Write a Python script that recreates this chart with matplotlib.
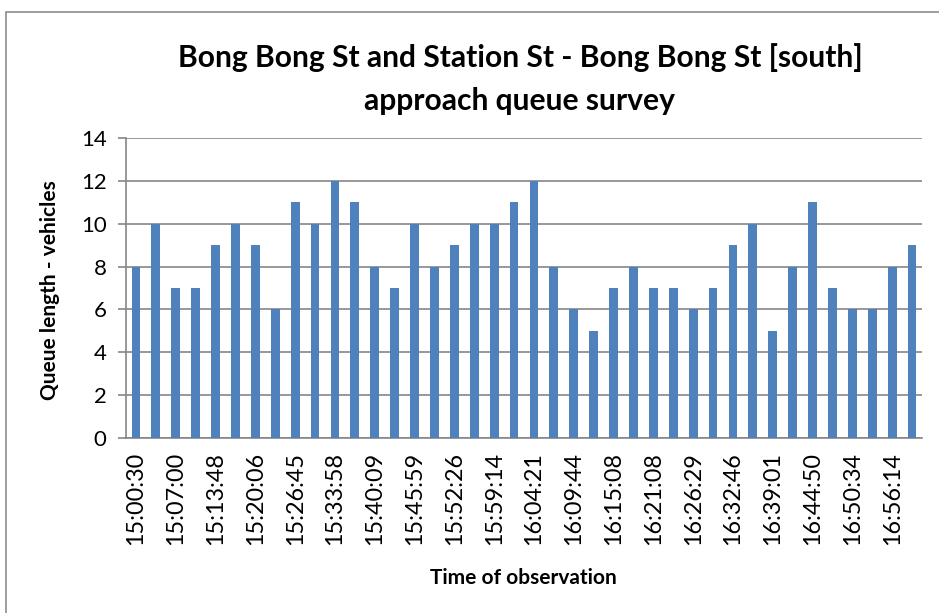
import numpy as np
import matplotlib
matplotlib.use("Agg")
import matplotlib.pyplot as plt
from matplotlib.patches import Rectangle

# queue length per observation (40 observations, every second one labelled)
queue = [8, 10, 7, 7, 9, 10, 9, 6, 11, 10,
         12, 11, 8, 7, 10, 8, 9, 10, 10, 11,
         12, 8, 6, 5, 7, 8, 7, 7, 6, 7,
         9, 10, 5, 8, 11, 7, 6, 6, 8, 9]
tick_labels = ["15:00:30", "15:07:00", "15:13:48", "15:20:06", "15:26:45",
               "15:33:58", "15:40:09", "15:45:59", "15:52:26", "15:59:14",
               "16:04:21", "16:09:44", "16:15:08", "16:21:08", "16:26:29",
               "16:32:46", "16:39:01", "16:44:50", "16:50:34", "16:56:14"]

title = "Bong Bong St and Station St - Bong Bong St [south]\napproach queue survey"
grid_col = "#868686"
bar_col = "#4F81BD"
font = "Lato"

W, H = 939, 613
fig = plt.figure(figsize=(W / 100, H / 100), dpi=100)

# chart area border (runs off the right/bottom edge in the original)
fig.patches.append(Rectangle((6 / W, -0.1), 1.2, 1 - 12 / H + 0.1,
                             transform=fig.transFigure, fill=False,
                             edgecolor="#8c8c8c", linewidth=1.2))

left, right, top, bottom = 126, 922, 138, 438
ax = fig.add_axes([left / W, 1 - bottom / H, (right - left) / W, (bottom - top) / H])

x = np.arange(len(queue))
ax.bar(x, queue, width=0.44, color=bar_col, zorder=3)

ax.set_xlim(-0.5, len(queue) - 0.5)
ax.set_ylim(0, 14)
ax.set_yticks(range(0, 15, 2))
ax.yaxis.grid(True, color=grid_col, linewidth=1.2, zorder=0)
ax.set_axisbelow(True)

ax.set_xticks(x[::2])
ax.set_xticklabels(tick_labels, rotation=90, fontsize=16.8, family=font)
ax.tick_params(axis="x", length=0, pad=10)
ax.tick_params(axis="y", length=6, width=1.2, color=grid_col, labelsize=16, pad=8)
for lab in ax.get_yticklabels():
    lab.set_family(font)

for s in ["top", "right"]:
    ax.spines[s].set_visible(False)
for s in ["left", "bottom"]:
    ax.spines[s].set_color(grid_col)
    ax.spines[s].set_linewidth(1.2)

fig.text(520 / W, 1 - 79 / H, title, ha="center", va="center",
         fontsize=21.6, fontweight="bold", family=font, linespacing=1.64)
fig.text(50 / W, 1 - 290 / H, "Queue length - vehicles", rotation=90,
         ha="center", va="center", fontsize=15, fontweight="bold", family=font)
fig.text(523 / W, 1 - 578 / H, "Time of observation", ha="center", va="center",
         fontsize=15, fontweight="bold", family=font)

fig.savefig("out.png", dpi=100)
